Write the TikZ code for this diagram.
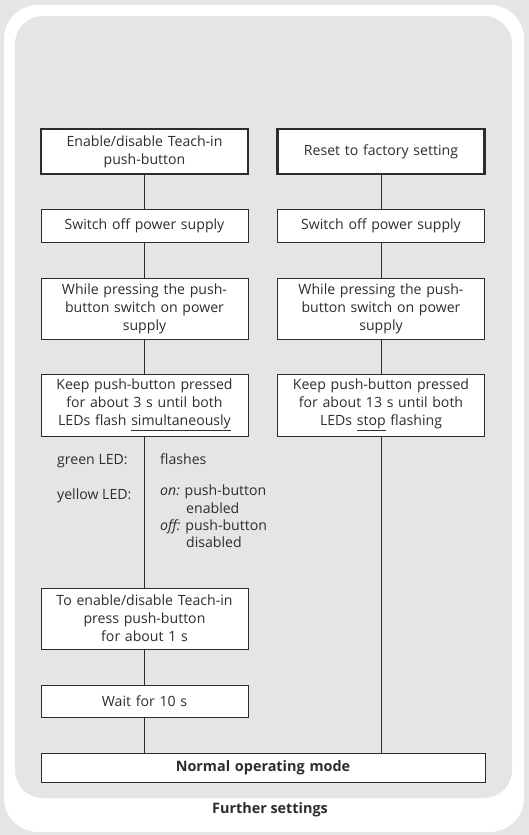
\documentclass[tikz,border=0pt]{standalone}
\usepackage{fontspec}
\setmainfont{Open Sans}
\definecolor{bg}{RGB}{229,229,229}
\definecolor{ink}{RGB}{45,45,45}
\begin{document}
\begin{tikzpicture}[x=1pt,y=-1pt,
  txt/.style={text=ink, font=\fontsize{14.1}{18}\selectfont, inner sep=0pt},
  box/.style={txt, draw=ink, fill=white, line width=0.9pt, minimum width=207pt, text width=203pt, align=center},
  headbox/.style={box, line width=2.4pt, minimum height=45pt},
  link/.style={draw=ink, line width=0.9pt}]
\useasboundingbox (0,0) rectangle (529,835);
\fill[bg] (0,0) rectangle (529,835);
\fill[white, rounded corners=34pt] (4,5) rectangle (524,832);
\fill[bg, rounded corners=28pt] (15,16) rectangle (512,798);

% left column
\node[headbox] (l1) at (144.5,151.5) {Enable/disable Teach-in\\push-button};
\node[box, minimum height=33pt] (l2) at (144.5,225.5) {Switch off power supply};
\node[box, minimum height=61pt] (l3) at (144.5,308.5) {While pressing the push-\\button switch on power\\supply};
\node[box, minimum height=62pt] (l4) at (144.5,405) {Keep push-button pressed\\for about 3 s until both\\LEDs flash \underline{simultaneously}};
\node[box, minimum height=61pt] (l5) at (144.5,618.5) {To enable/disable Teach-in\\press push-button\\for about 1 s};
\node[box, minimum height=32pt] (l6) at (144.5,701) {Wait for 10 s};

% right column
\node[headbox] (r1) at (381,151.5) {Reset to factory setting};
\node[box, minimum height=33pt] (r2) at (381,225.5) {Switch off power supply};
\node[box, minimum height=61pt] (r3) at (381,308.5) {While pressing the push-\\button switch on power\\supply};
\node[box, minimum height=62pt] (r4) at (381,405) {Keep push-button pressed\\for about 13 s until both\\LEDs \underline{stop} flashing};

% bottom
\node[box, minimum width=444pt, text width=430pt, minimum height=29pt, font=\fontsize{14.4}{18}\selectfont\bfseries] (nm) at (263,767.5) {Normal operating mode};

% LED info
\node[txt, anchor=base west] (gl) at (57,464) {green LED:};
\node[txt, anchor=base west] (fl) at (160,464) {flashes};
\node[txt, anchor=base west] (yl) at (57,499) {yellow LED:};
\node[txt, anchor=north west, align=left, font=\fontsize{14.1}{17.3}\selectfont] (yt) at (160,485) {\textit{on:} push-button\\\hspace*{26pt}enabled\\\textit{off:} push-button\\\hspace*{26pt}disabled};

% connectors
\draw[link] (l1) -- (l2);
\draw[link] (l2) -- (l3);
\draw[link] (l3) -- (l4);
\draw[link] (l4) -- (l5);
\draw[link] (l5) -- (l6);
\draw[link] (l6.south) -- (l6.south |- nm.north);
\draw[link] (r1) -- (r2);
\draw[link] (r2) -- (r3);
\draw[link] (r3) -- (r4);
\draw[link] (r4.south) -- (r4.south |- nm.north);

\node[txt, font=\fontsize{14.4}{16}\selectfont\bfseries] (fs) at (270,809.5) {Further settings};
\end{tikzpicture}
\end{document}
